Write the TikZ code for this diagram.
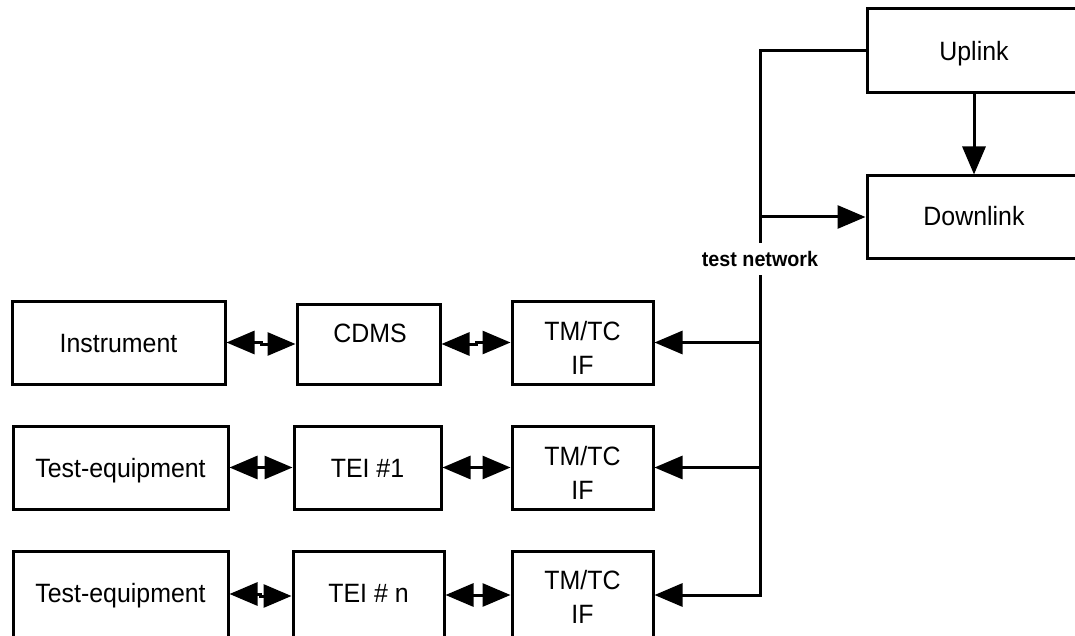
\documentclass[tikz,border=0pt]{standalone}
\usepackage{fontspec}
\setmainfont[FakeStretch=0.94]{Liberation Sans}
\usetikzlibrary{arrows.meta,calc}
\begin{document}
\begin{tikzpicture}[x=1pt,y=-1pt,
  ln/.style={line width=3pt, line join=miter},
  tip/.tip={Triangle[length=28pt,width=23pt]},
  arr/.style={ln, -tip},
  dbl/.style={ln, tip-tip},
  box/.style={draw, line width=3pt, inner sep=0pt, fill=white},
  tx/.style={font=\fontsize{26.5}{34}\selectfont, inner sep=0pt, text height=19pt, text depth=0pt},
  tx2/.style={font=\fontsize{26.5}{34}\selectfont, inner sep=0pt, align=center},
  netlbl/.style={font=\fontsize{21}{22}\selectfont\bfseries, inner xsep=3pt, inner ysep=8.5pt, text height=15pt, text depth=0pt}
]
\useasboundingbox (0,0) rectangle (1075,636);
\clip (0,0) rectangle (1075,636);

% top right
\node[box, minimum width=214pt, minimum height=84pt,
      label={[tx]center:Uplink}] (up) at (974,51) {};
\node[box, minimum width=214pt, minimum height=82pt,
      label={[tx, yshift=1pt]center:Downlink}] (down) at (974,217) {};

% row 1
\node[box, minimum width=213pt, minimum height=83pt,
      label={[tx]center:Instrument}] (inst) at (118.5,342.5) {};
\node[box, minimum width=143pt, minimum height=80pt,
      label={[tx, yshift=11.5pt, xshift=1.5pt]center:CDMS}] (cdms) at (368.5,344) {};
\node[box, minimum width=141pt, minimum height=83pt,
      label={[tx2, yshift=-5.5pt]center:{TM/TC\\IF}}] (tm1) at (582.5,342.5) {};

% row 2
\node[box, minimum width=215pt, minimum height=83pt,
      label={[tx]center:Test-equipment}] (te2) at (120.5,467.5) {};
\node[box, minimum width=147pt, minimum height=83pt,
      label={[tx]center:TEI \#1}] (tei1) at (367.5,467.5) {};
\node[box, minimum width=141pt, minimum height=83pt,
      label={[tx2, yshift=-5.5pt]center:{TM/TC\\IF}}] (tm2) at (582.5,467.5) {};

% row 3
\node[box, minimum width=215pt, minimum height=88pt,
      label={[tx, yshift=2.5pt]center:Test-equipment}] (te3) at (120.5,595) {};
\node[box, minimum width=151pt, minimum height=88pt,
      label={[tx, yshift=2pt]center:TEI \# n}] (tein) at (368.5,595) {};
\node[box, minimum width=141pt, minimum height=88pt,
      label={[tx2, yshift=-1.5pt]center:{TM/TC\\IF}}] (tm3) at (582.5,595) {};

% network label
\node[netlbl] (net) at (760,259) {test network};

% bus
\draw[ln] (up.west) -| (net.north);
\draw[arr] (net.south) |- (tm3.east);
\draw[arr] (net.south |- tm1.east) -- (tm1.east);
\draw[arr] (net.south |- tm2.east) -- (tm2.east);
\draw[arr] (net.north |- down.west) -- (down.west);
\draw[arr] (up.south) -- (down.north);

% double arrows
\draw[dbl] (inst.east) -| ($(inst.east)!.5!(cdms.west)$) |- (cdms.west);
\draw[dbl] (cdms.east) -| ($(cdms.east)!.5!(tm1.west)$) |- (tm1.west);
\draw[dbl] (te2.east) -- (tei1.west);
\draw[dbl] (tei1.east) -- (tm2.west);
\draw[dbl] ([yshift=1pt]te3.east) -| ($(te3.east)!.5!(tein.west)$) |- ([yshift=-1pt]tein.west);
\draw[dbl] (tein.east) -- (tm3.west);
\end{tikzpicture}
\end{document}
